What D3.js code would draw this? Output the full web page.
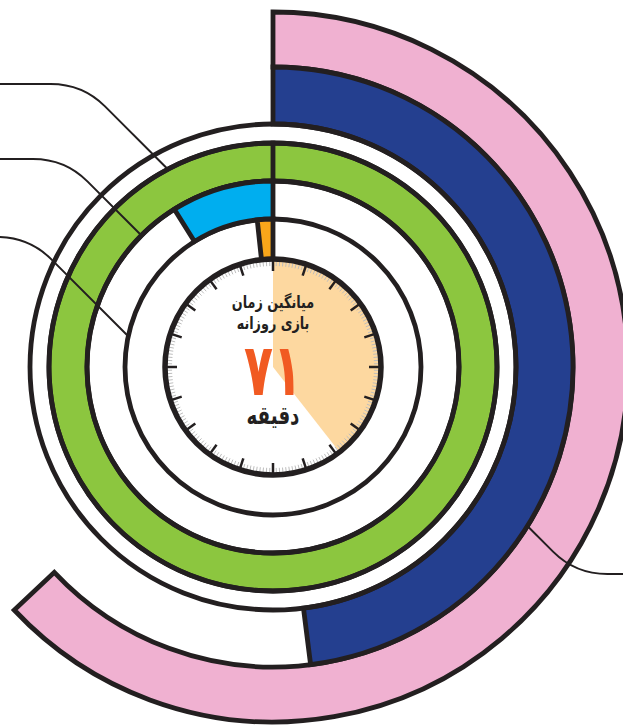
<!DOCTYPE html>
<html><head><meta charset="utf-8">
<script src="https://cdn.jsdelivr.net/npm/d3@7"></script>
<style>html,body{margin:0;padding:0;background:#fff;overflow:hidden}</style>
</head><body>
<svg id="c" width="623" height="725"></svg>
<script>
// ---- data ----
const rings = ["orange", "cyan", "green", "blue", "pink"];
const ringShares = [1.7, 8.9, 100, 48, 63];          // percent of the full circle
const avgMinutes = 71;                                 // clock value
const clockMax = 180;                                  // minutes for a full turn
const majorTickCount = 20;
const minorPerMajor = 10;
const titleLines = ["میانگین زمان", "بازی روزانه"];
const valueLabel = "۷۱";
const unitLabel = "دقیقه";

// ---- layout / style ----
const W = 623, H = 725, cx = 273, cy = 367;
const colors = {orange:"#f9a61a", cyan:"#00aeef", green:"#8cc63f", blue:"#243f8f", pink:"#f0b1d1"};
const ringRadii = {orange:[108,148], cyan:[148,186], green:[186,224], blue:[243,300], pink:[300,355]};
const ringDir = {orange:-1, cyan:-1, green:1, blue:1, pink:1};
const ink = "#231f20";
const clockR = 108;
const SW = 4.8;

const svg = d3.select("#c");
const g = svg.append("g").attr("transform", `translate(${cx},${cy})`);
const angle = d3.scaleLinear().domain([0,100]).range([0, 2*Math.PI]);
const clockAngle = d3.scaleLinear().domain([0, clockMax]).range([0, 2*Math.PI]);
const arc = d3.arc();

// outer rings
["pink","blue"].forEach(k => {
  const i = rings.indexOf(k);
  const a = angle(ringShares[i]) * ringDir[k];
  g.append("path")
    .attr("d", arc({innerRadius:ringRadii[k][0], outerRadius:ringRadii[k][1],
                    startAngle:Math.min(0,a), endAngle:Math.max(0,a)}))
    .attr("fill", colors[k]).attr("stroke", ink).attr("stroke-width", SW)
    .attr("stroke-linejoin","miter");
});

// green full ring
{
  const i = rings.indexOf("green");
  const a = Math.min(angle(ringShares[i]), 2*Math.PI - 1e-4);
  g.append("path")
    .attr("d", arc({innerRadius:ringRadii.green[0], outerRadius:ringRadii.green[1], startAngle:0, endAngle:a}))
    .attr("fill", colors.green).attr("stroke", ink).attr("stroke-width", SW);
}
// track circles
[148, 186, 224, 243].forEach(r => {
  g.append("circle").attr("r", r).attr("fill","none").attr("stroke", ink).attr("stroke-width", SW);
});
// inner small rings
["cyan","orange"].forEach(k => {
  const i = rings.indexOf(k);
  const a = angle(ringShares[i]) * ringDir[k];
  g.append("path")
    .attr("d", arc({innerRadius:ringRadii[k][0], outerRadius:ringRadii[k][1],
                    startAngle:Math.min(0,a), endAngle:Math.max(0,a)}))
    .attr("fill", colors[k]).attr("stroke", ink).attr("stroke-width", SW);
});

// clock
g.append("circle").attr("r", clockR).attr("fill","#fff");
g.append("path")
  .attr("d", arc({innerRadius:0, outerRadius:clockR, startAngle:0, endAngle:clockAngle(avgMinutes)}))
  .attr("fill","#fdd8a0");
const nMinor = majorTickCount*minorPerMajor;
const minorTicks = d3.range(nMinor).filter(d => d % minorPerMajor !== 0);
g.selectAll("line.minor").data(minorTicks).join("line")
  .attr("class","minor")
  .attr("x1", d => Math.sin(d/nMinor*2*Math.PI)*(clockR-7))
  .attr("y1", d => -Math.cos(d/nMinor*2*Math.PI)*(clockR-7))
  .attr("x2", d => Math.sin(d/nMinor*2*Math.PI)*(clockR-2))
  .attr("y2", d => -Math.cos(d/nMinor*2*Math.PI)*(clockR-2))
  .attr("stroke","#bdbdbd").attr("stroke-width",1);
g.selectAll("line.major").data(d3.range(majorTickCount)).join("line")
  .attr("class","major")
  .attr("x1", d => Math.sin(d/majorTickCount*2*Math.PI)*(clockR-12))
  .attr("y1", d => -Math.cos(d/majorTickCount*2*Math.PI)*(clockR-12))
  .attr("x2", d => Math.sin(d/majorTickCount*2*Math.PI)*(clockR))
  .attr("y2", d => -Math.cos(d/majorTickCount*2*Math.PI)*(clockR))
  .attr("stroke",ink).attr("stroke-width",2.5);
g.append("circle").attr("r", clockR).attr("fill","none").attr("stroke",ink).attr("stroke-width",5.5);

// texts
const ff = "'DejaVu Sans', 'Noto Sans', sans-serif";
function label(txt, y, size, sx, sy, fill, rtl) {
  const t = g.append("text").attr("transform", `translate(0,${y}) scale(${sx},${sy})`)
    .attr("text-anchor","middle").attr("font-family",ff).attr("font-weight","bold")
    .attr("font-size",size).attr("fill",fill).text(txt);
  if (rtl) t.attr("direction","rtl");
  return t;
}
label(titleLines[0], -59, 16, 0.8, 1.05, ink, true);
label(titleLines[1], -38, 16, 0.8, 1.05, ink, true);
label(valueLabel, 28, 50, 0.95, 1.45, "#f15a22", false);
label(unitLabel, 57, 24, 0.76, 1.05, ink, true);

// leader lines: [ring, boundary radius, tip angle (deg), horizontal y, side]
const leaders = [
  ["green", 224, -28, 84, -1],
  ["cyan", 186, -45, 159, -1],
  ["orange", 148, -78, 237, -1],
  ["blue", 300, 122, 574, 1]
];
leaders.forEach(([k, r, deg, hy, side]) => {
  const t = deg*Math.PI/180;
  const tx = cx + Math.sin(t)*r, ty = cy - Math.cos(t)*r;
  const dy = hy - ty;
  const cornerX = tx + side*Math.abs(dy);
  const b = 32;
  const s = Math.sign(dy);
  const p1x = cornerX - side*b*0.7, p1y = hy - s*b*0.7;
  const p2x = cornerX + side*b;
  const edge = side < 0 ? 0 : W;
  const p = d3.path();
  p.moveTo(tx, ty); p.lineTo(p1x, p1y);
  p.quadraticCurveTo(cornerX, hy, p2x, hy);
  p.lineTo(edge, hy);
  svg.append("path").attr("d", p.toString()).attr("fill","none")
    .attr("stroke", ink).attr("stroke-width", 2);
});
</script>
</body></html>
